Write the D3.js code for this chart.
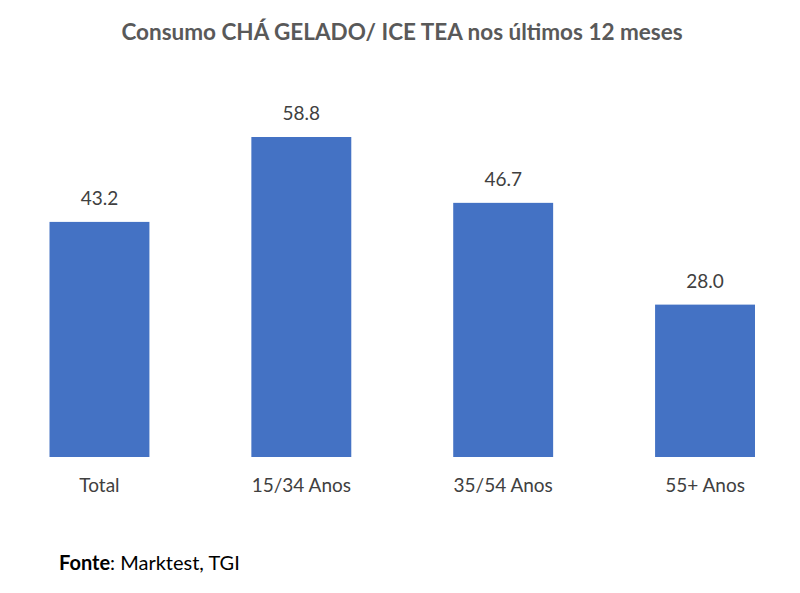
<!DOCTYPE html>
<html>
<head>
<meta charset="utf-8">
<script src="https://cdn.jsdelivr.net/npm/d3@7"></script>
<style>
  body { margin: 0; background: #fff; }
  svg text { font-family: Lato, "Open Sans", sans-serif; }
</style>
</head>
<body>
<div id="chart"></div>
<script>
// data
const categories = ["Total", "15/34 Anos", "35/54 Anos", "55+ Anos"];
const values = [43.2, 58.8, 46.7, 28.0];
const title = "Consumo CHÁ GELADO/ ICE TEA nos últimos 12 meses";

const width = 800, height = 593;
const baseY = 457;

const svg = d3.select("#chart").append("svg")
    .attr("width", width)
    .attr("height", height);

svg.append("rect").attr("width", width).attr("height", height).attr("fill", "#fff");

const x = d3.scaleBand()
    .domain(categories)
    .range([49.5, 755])
    .paddingInner(0.505)
    .paddingOuter(0);

const y = d3.scaleLinear()
    .domain([0, 58.8])
    .range([baseY, 137]);

//Title
svg.append("text")
    .attr("x", 402)
    .attr("y", 40)
    .attr("text-anchor", "middle")
    .attr("font-size", 22.5)
    .attr("font-weight", "bold")
    .attr("fill", "#595959")
    .text(title);

//Bars
svg.selectAll("rect.bar")
    .data(values)
    .enter().append("rect")
    .attr("class", "bar")
    .attr("x", (d, i) => x(categories[i]))
    .attr("width", x.bandwidth())
    .attr("y", d => y(d))
    .attr("height", d => baseY - y(d))
    .attr("fill", "#4472c4");

//Value labels
svg.selectAll("text.val")
    .data(values)
    .enter().append("text")
    .attr("class", "val")
    .attr("x", (d, i) => x(categories[i]) + x.bandwidth() / 2)
    .attr("y", d => y(d) - 17)
    .attr("text-anchor", "middle")
    .attr("font-size", 19)
    .attr("fill", "#404040")
    .text(d => d.toFixed(1));

//Category axis labels
const xAxis = d3.axisBottom(x).tickSize(0).tickPadding(22);
const gx = svg.append("g")
    .attr("transform", "translate(0," + baseY + ")")
    .call(xAxis);
gx.select(".domain").remove();
gx.selectAll("text")
    .attr("font-size", 19)
    .attr("fill", "#404040")
    .style("font-family", "Lato, 'Open Sans', sans-serif");

//Source
const src = svg.append("text")
    .attr("x", 59)
    .attr("y", 570)
    .attr("font-size", 20)
    .attr("fill", "#000");
src.append("tspan").attr("font-weight", "bold").text("Fonte");
src.append("tspan").text(": Marktest, TGI");
</script>
</body>
</html>
